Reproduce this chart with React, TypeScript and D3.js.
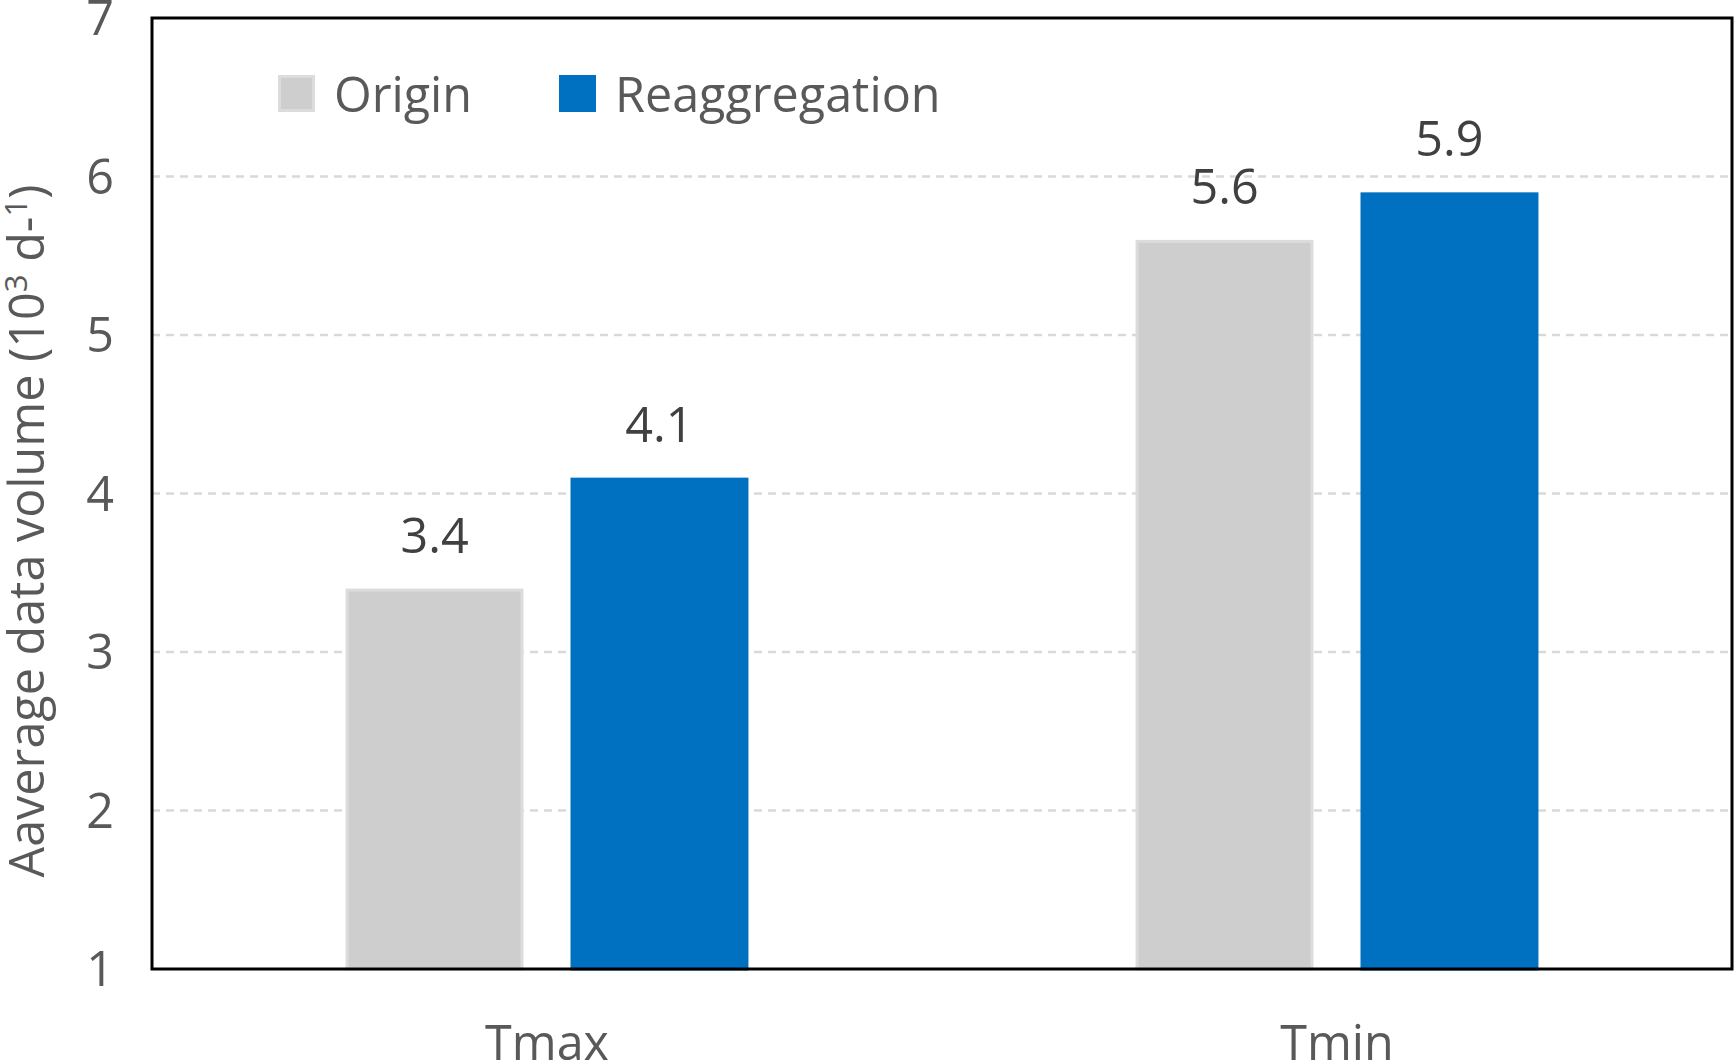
import React from 'react';
import * as d3 from 'd3';

const categories = ['Tmax', 'Tmin'];
const seriesNames = ['Origin', 'Reaggregation'];
const originValues = [3.4, 5.6];
const reaggregationValues = [4.1, 5.9];
const yTicks = [1, 2, 3, 4, 5, 6, 7];
const seriesColors = ['#CFCECF', '#0070C0'];
const seriesStrokes = ['#DCDCDC', '#0070C0'];

const W = 1735;
const H = 1061;
const FONT = '"Open Sans", Lato, sans-serif';
const FS = 48.5;

export default function App() {
  const margin = { top: 18, right: 3, bottom: 92, left: 152 };
  const innerW = W - margin.left - margin.right;
  const innerH = H - margin.top - margin.bottom;

  const x0 = d3.scaleBand<string>()
    .domain(categories)
    .range([0, innerW])
    .paddingInner(0.49)
    .paddingOuter(0.245);

  const x1 = d3.scaleBand<string>()
    .domain(seriesNames)
    .range([0, x0.bandwidth()])
    .paddingInner(0.209);

  const y = d3.scaleLinear().domain([1, 7]).range([innerH, 0]);

  const values = [originValues, reaggregationValues];

  return (
    <div>
      <style>{'body{margin:0}'}</style>
      <svg width={W} height={H} style={{ display: 'block', background: '#fff' }} fontFamily={FONT}>
        <g transform={`translate(${margin.left},${margin.top})`}>
          {/* gridlines behind the bars */}
          {yTicks.filter(t => t > 1 && t < 7).map(t => (
            <line key={t} x1={0} x2={innerW} y1={y(t)} y2={y(t)}
              stroke="#D9D9D9" strokeWidth={2.5} strokeDasharray="8,6" />
          ))}

          {categories.map((c, ci) => (
            <g key={c} transform={`translate(${x0(c)},0)`}>
              {seriesNames.map((s, si) => {
                const v = values[si][ci];
                const bx = x1(s) || 0;
                return (
                  <g key={s}>
                    <rect x={bx + 1.5} y={y(v) + 1.5} width={x1.bandwidth() - 3}
                      height={innerH - y(v) - 1.5}
                      fill={seriesColors[si]} stroke={seriesStrokes[si]} strokeWidth={3} />
                    <text x={bx + x1.bandwidth() / 2} y={y(v) - 36} textAnchor="middle"
                      fontSize={FS} fill="#404040">{v.toFixed(1)}</text>
                  </g>
                );
              })}
              <text x={x0.bandwidth() / 2} y={innerH + 91} textAnchor="middle"
                fontSize={FS} fill="#595959">{c}</text>
            </g>
          ))}

          {/* frame */}
          <rect x={0} y={0} width={innerW} height={innerH} fill="none" stroke="#000" strokeWidth={3} />

          {/* y tick labels */}
          {yTicks.map(t => (
            <text key={t} x={-38} y={y(t)} dy="0.36em" textAnchor="end"
              fontSize={FS} fill="#595959">{t}</text>
          ))}

          {/* legend */}
          <g>
            <rect x={278 - margin.left + 1.5} y={75 - margin.top + 1.5} width={34} height={34}
              fill={seriesColors[0]} stroke={seriesStrokes[0]} strokeWidth={3} />
            <text x={334 - margin.left} y={112 - margin.top} fontSize={FS} fill="#595959">{seriesNames[0]}</text>
            <rect x={559 - margin.left} y={75 - margin.top} width={37} height={37}
              fill={seriesColors[1]} />
            <text x={615 - margin.left} y={112 - margin.top} fontSize={FS} fill="#595959">{seriesNames[1]}</text>
          </g>
        </g>

        {/* y axis title */}
        <text transform={`translate(44,531) rotate(-90)`} textAnchor="middle" fontSize={FS} fill="#595959">
          Aaverage data volume (10<tspan fontSize={31} dy={-17}>3</tspan>
          <tspan dy={17}> d-</tspan><tspan fontSize={31} dy={-17}>1</tspan><tspan dy={17}>)</tspan>
        </text>
      </svg>
    </div>
  );
}
